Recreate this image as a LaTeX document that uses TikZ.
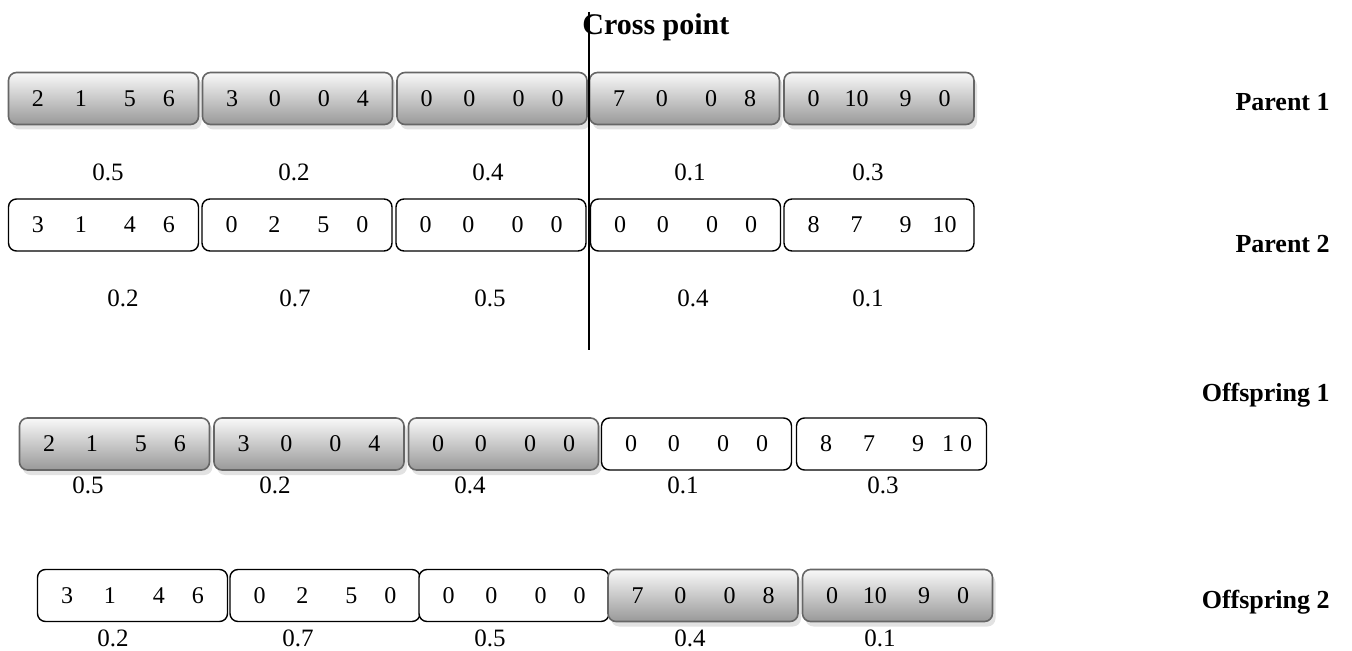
\documentclass[tikz,border=0pt]{standalone}
\usepackage{fontspec}
\setmainfont{Liberation Serif}
\usetikzlibrary{shadows}

\newcommand{\genes}[4]{\makebox[6pt]{#1}\hspace{15.5pt}\makebox[6pt]{#2}\hspace{18.5pt}\makebox[6pt]{#3}\hspace{13.5pt}\makebox[6pt]{#4}}

\tikzset{
  gbox/.style={rectangle,rounded corners=4pt,draw=black!60,line width=0.8pt,
    top color=gray!5,bottom color=gray!80,
    drop shadow={shadow xshift=1.5pt,shadow yshift=-2.5pt,fill=gray!45},
    minimum width=95pt,minimum height=26pt,inner sep=0pt,
    font=\fontsize{12}{14}\selectfont},
  wbox/.style={rectangle,rounded corners=4pt,draw,line width=0.7pt,fill=white,
    minimum width=95pt,minimum height=26pt,inner sep=0pt,
    font=\fontsize{12}{14}\selectfont},
  val/.style={inner sep=0pt,font=\fontsize{12.5}{14}\selectfont},
  tag/.style={inner sep=0pt,anchor=base east,font=\fontsize{13}{15}\selectfont\bfseries}
}

\begin{document}
\begin{tikzpicture}[x=0.5pt,y=-0.5pt]
\useasboundingbox (0,0) rectangle (1352,651);

% parent 1
\node[gbox] (p1a) at (103.5,98.5) {\genes{2}{1}{5}{6}};
\node[gbox] (p1b) at (297.5,98.5) {\genes{3}{0}{0}{4}};
\node[gbox] (p1c) at (492,98.5) {\genes{0}{0}{0}{0}};
\node[gbox] (p1d) at (684.5,98.5) {\genes{7}{0}{0}{8}};
\node[gbox] (p1e) at (879,98.5) {\genes{0}{10}{9}{0}};
\node[val] (v1a) at (108,172) {0.5};
\node[val] (v1b) at (294,172) {0.2};
\node[val] (v1c) at (488,172) {0.4};
\node[val] (v1d) at (690,172) {0.1};
\node[val] (v1e) at (868,172) {0.3};
\node[tag] (par1) at (1330,111) {Parent 1};

% parent 2
\node[wbox] (p2a) at (103.5,225) {\genes{3}{1}{4}{6}};
\node[wbox] (p2b) at (297,225) {\genes{0}{2}{5}{0}};
\node[wbox] (p2c) at (491,225) {\genes{0}{0}{0}{0}};
\node[wbox] (p2d) at (685.5,225) {\genes{0}{0}{0}{0}};
\node[wbox] (p2e) at (879,225) {\genes{8}{7}{9}{10}};
\node[val] (v2a) at (123,298) {0.2};
\node[val] (v2b) at (295,298) {0.7};
\node[val] (v2c) at (490,298) {0.5};
\node[val] (v2d) at (693,298) {0.4};
\node[val] (v2e) at (868,298) {0.1};
\node[tag] (par2) at (1330,253) {Parent 2};

% cross point
\coordinate (cptop) at (589,12);
\coordinate (cpbot) at (589,350);
\draw[line width=0.7pt] (cptop) -- (cpbot);
\node[inner sep=0pt,anchor=base west,font=\fontsize{15}{17}\selectfont\bfseries] (cross) at (582,35) {Cross point};

% offspring 1
\node[gbox] (o1a) at (114.5,444) {\genes{2}{1}{5}{6}};
\node[gbox] (o1b) at (309,444) {\genes{3}{0}{0}{4}};
\node[gbox] (o1c) at (503.5,444) {\genes{0}{0}{0}{0}};
\node[wbox] (o1d) at (696.5,444) {\genes{0}{0}{0}{0}};
\node[wbox] (o1e) at (891.5,444) {\genes{8}{7}{9}{1 0}};
\node[val] (v3a) at (88,485) {0.5};
\node[val] (v3b) at (275,485) {0.2};
\node[val] (v3c) at (470,485) {0.4};
\node[val] (v3d) at (683,485) {0.1};
\node[val] (v3e) at (883,485) {0.3};
\node[tag] (off1) at (1330,401) {Offspring 1};

% offspring 2
\node[wbox] (o2a) at (132.5,595.5) {\genes{3}{1}{4}{6}};
\node[wbox] (o2b) at (325,595.5) {\genes{0}{2}{5}{0}};
\node[wbox] (o2c) at (514,595.5) {\genes{0}{0}{0}{0}};
\node[gbox] (o2d) at (703,595.5) {\genes{7}{0}{0}{8}};
\node[gbox] (o2e) at (897.5,595.5) {\genes{0}{10}{9}{0}};
\node[val] (v4a) at (113,638) {0.2};
\node[val] (v4b) at (298,638) {0.7};
\node[val] (v4c) at (490,638) {0.5};
\node[val] (v4d) at (690,638) {0.4};
\node[val] (v4e) at (880,638) {0.1};
\node[tag] (off2) at (1330,608) {Offspring 2};
\end{tikzpicture}
\end{document}
